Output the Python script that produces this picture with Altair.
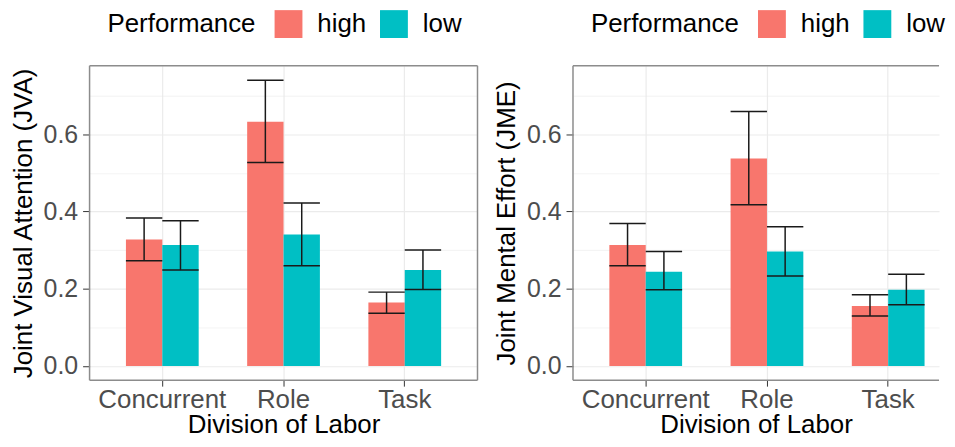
import altair as alt
import pandas as pd

divisions = ["Concurrent", "Role", "Task"]
performance = ["high", "low"]

# order: Concurrent-high, Concurrent-low, Role-high, Role-low, Task-high, Task-low
jva_mean = [0.327, 0.313, 0.632, 0.340, 0.164, 0.248]
jva_lo = [0.272, 0.248, 0.527, 0.259, 0.136, 0.198]
jva_hi = [0.383, 0.376, 0.740, 0.422, 0.191, 0.300]

jme_mean = [0.313, 0.244, 0.537, 0.296, 0.155, 0.197]
jme_lo = [0.259, 0.197, 0.417, 0.233, 0.129, 0.158]
jme_hi = [0.369, 0.296, 0.659, 0.360, 0.184, 0.237]

y_ticks = [0.0, 0.1, 0.2, 0.3, 0.4, 0.5, 0.6, 0.7]

FONT = "Liberation Sans"
COLORS = ["#F8766D", "#00BFC4"]
YDOM = [-0.037, 0.777]
BORDER = "#8c8c8c"
H = 316


def panel_df(mean, lo, hi):
    rows = []
    for i, d in enumerate(divisions):
        for j, p in enumerate(performance):
            k = i * 2 + j
            rows.append(dict(division=d, performance=p, mean=mean[k], lo=lo[k], hi=hi[k]))
    return pd.DataFrame(rows)


def make_panel(df, ytitle, width, po, align, right_border):
    step = width / (3 - 0.4 + 2 * po)
    band = step * 0.3
    x = alt.X(
        "division:N",
        sort=divisions,
        scale=alt.Scale(paddingInner=0.4, paddingOuter=po, align=align),
        title="Division of Labor",
        axis=alt.Axis(
            labelAngle=0, labelFontSize=26, labelColor="#4D4D4D", labelPadding=0,
            tickSize=6, tickColor="#333333", tickWidth=1,
            titleFontSize=26, titleColor="black", titleFontWeight="normal", titlePadding=0,
            gridColor="#EBEBEB", gridWidth=1.2, grid=True, domain=False,
        ),
    )
    xo = alt.XOffset("performance:N", sort=performance,
                     scale=alt.Scale(paddingInner=0, paddingOuter=0))
    yaxis = alt.Axis(
        values=y_ticks,
        labelExpr="round(datum.value*10) % 2 == 1 ? '' : format(datum.value, '.1f')",
        labelFontSize=25, labelColor="#4D4D4D", labelPadding=5,
        tickSize=7, tickColor="#333333",
        tickOpacity={"condition": {"test": "round(datum.value*10) % 2 == 1", "value": 0}, "value": 1},
        gridColor="#EBEBEB",
        gridWidth={"condition": {"test": "round(datum.value*10) % 2 == 1", "value": 0.6}, "value": 1.2},
        titleFontSize=26, titleColor="black", titleFontWeight="normal", titlePadding=7,
        domain=False,
    )
    y = alt.Y("mean:Q", scale=alt.Scale(domain=YDOM, nice=False, zero=False), title=ytitle, axis=yaxis)
    color = alt.Color(
        "performance:N",
        scale=alt.Scale(domain=performance, range=COLORS),
        legend=alt.Legend(
            orient="none", legendX=18, legendY=-56, direction="horizontal",
            title="Performance", titleOrient="left", titleFontSize=26, titleFontWeight="normal",
            titleColor="black", titlePadding=19,
            labelFontSize=26, labelColor="black", labelOffset=15,
            symbolType="square", symbolSize=784, symbolStrokeWidth=0, symbolOpacity=1,
            columnPadding=13,
        ),
    )
    base = alt.Chart(df)
    bars = base.mark_bar().encode(x=x, xOffset=xo, y=y, y2=alt.datum(0), color=color)
    stems = base.mark_rule(color="#1a1a1a", strokeWidth=1.5).encode(
        x=x, xOffset=xo, y=alt.Y("lo:Q"), y2="hi:Q")
    cap_hi = base.mark_tick(color="#1a1a1a", thickness=1.5, size=band, orient="horizontal", opacity=1).encode(
        x=x, xOffset=xo, y=alt.Y("hi:Q"))
    cap_lo = base.mark_tick(color="#1a1a1a", thickness=1.5, size=band, orient="horizontal", opacity=1).encode(
        x=x, xOffset=xo, y=alt.Y("lo:Q"))
    layers = [bars, stems, cap_hi, cap_lo]
    one = pd.DataFrame({"a": [0]})
    frame = alt.Chart(one).mark_rule(color=BORDER, strokeWidth=1.5)
    layers.append(frame.encode(x=alt.value(0), x2=alt.value(width), y=alt.value(0)))
    layers.append(frame.encode(x=alt.value(0), x2=alt.value(width), y=alt.value(H)))
    layers.append(frame.encode(x=alt.value(0), y=alt.value(0), y2=alt.value(H)))
    if right_border:
        layers.append(frame.encode(x=alt.value(width), y=alt.value(0), y2=alt.value(H)))
    return alt.layer(*layers).properties(width=width, height=H)


left = make_panel(panel_df(jva_mean, jva_lo, jva_hi), "Joint Visual Attention (JVA)", 390, 0.3, 0.5, True)
right_w = 368
step = 390 / 3.2
extra = right_w - step * 2.6
po_r = extra / (2 * step)
align_r = (0.3 * step) / extra
right = make_panel(panel_df(jme_mean, jme_lo, jme_hi), "Joint Mental Effort (JME)", right_w, po_r, align_r, False)

chart = alt.hconcat(left, right, spacing=13).resolve_scale(
    x="independent", y="independent", color="shared", xOffset="independent"
).resolve_legend(color="independent").configure(
    font=FONT, padding={"left": 1, "top": 0, "bottom": 0, "right": 0}
).configure_view(stroke="transparent")

chart.save("out.html", embed_options={"renderer": "svg", "actions": False})
